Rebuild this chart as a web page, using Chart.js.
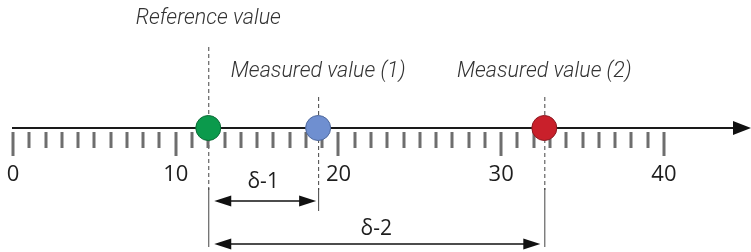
<!DOCTYPE html>
<html>
<head>
<meta charset="utf-8">
<script src="https://cdn.jsdelivr.net/npm/chart.js@4.4.1/dist/chart.umd.min.js"></script>
<style>
  html, body { margin: 0; padding: 0; background: #fff; }
  #wrap { width: 751px; height: 252px; }
</style>
</head>
<body>
<div id="wrap"><canvas id="lineChart"></canvas></div>
<script>
// values
const categories = ['Reference value', 'Measured value (1)', 'Measured value (2)'];
const values = [12, 18.75, 32.65];
const dotColors = ['#0b9a4c', '#6f8fd0', '#c9202b'];
const dotBorders = ['#0a6a35', '#4d679c', '#8c1820'];
const tickLabels = [0, 10, 20, 30, 40];
const deltaLabels = ['δ-1', 'δ-2'];

const axisMin = 0;
const axisMax = 45.35;

const numberLine = {
  id: 'numberLine',
  beforeDatasetsDraw(chart) {
    const ctx = chart.ctx;
    const x = chart.scales.x;
    const y = chart.scales.y;
    const y0 = y.getPixelForValue(0);
    const xs = values.map(v => x.getPixelForValue(v));

    ctx.save();
    // dashed guide lines
    ctx.strokeStyle = '#444';
    ctx.lineWidth = 1;
    ctx.setLineDash([4, 3]);
    const tops = [47, 97, 97];
    xs.forEach((px, i) => {
      ctx.beginPath();
      ctx.moveTo(px + 0.5, tops[i]);
      ctx.lineTo(px + 0.5, 190);
      ctx.stroke();
    });
    ctx.setLineDash([]);
    // solid extension lines for the deltas
    const ends = [247, 211, 247];
    xs.forEach((px, i) => {
      ctx.beginPath();
      ctx.moveTo(px + 0.5, 188);
      ctx.lineTo(px + 0.5, ends[i]);
      ctx.stroke();
    });

    // ticks
    ctx.fillStyle = '#6e6e6e';
    for (let v = 0; v <= 40; v++) {
      const px = x.getPixelForValue(v);
      const major = v % 10 === 0;
      ctx.fillRect(Math.round(px) - 1.5, y0 + 4, 3, major ? 24 : 16);
    }

    // axis line + arrow
    const left = x.getPixelForValue(axisMin) - 1;
    const right = chart.width;
    ctx.strokeStyle = '#1a1a1a';
    ctx.lineWidth = 2;
    ctx.beginPath();
    ctx.moveTo(left, y0);
    ctx.lineTo(right - 16, y0);
    ctx.stroke();
    ctx.fillStyle = '#111';
    ctx.beginPath();
    ctx.moveTo(right, y0);
    ctx.lineTo(right - 18, y0 - 7);
    ctx.lineTo(right - 18, y0 + 7);
    ctx.closePath();
    ctx.fill();

    // tick labels
    ctx.fillStyle = '#1e1e1e';
    ctx.font = '22px "Open Sans"';
    ctx.textAlign = 'center';
    ctx.textBaseline = 'middle';
    tickLabels.forEach(t => {
      ctx.fillText(String(t), x.getPixelForValue(t), y0 + 47);
    });

    // delta arrows
    const drawArrow = (x1, x2, yy) => {
      ctx.strokeStyle = '#111';
      ctx.lineWidth = 1.5;
      ctx.beginPath();
      ctx.moveTo(x1 + 10, yy);
      ctx.lineTo(x2 - 10, yy);
      ctx.stroke();
      ctx.fillStyle = '#111';
      ctx.beginPath();
      ctx.moveTo(x1, yy);
      ctx.lineTo(x1 + 17, yy - 5.5);
      ctx.lineTo(x1 + 17, yy + 5.5);
      ctx.closePath();
      ctx.fill();
      ctx.beginPath();
      ctx.moveTo(x2, yy);
      ctx.lineTo(x2 - 17, yy - 5.5);
      ctx.lineTo(x2 - 17, yy + 5.5);
      ctx.closePath();
      ctx.fill();
    };
    drawArrow(xs[0] + 6, xs[1] - 2, 201);
    drawArrow(xs[0] + 6, xs[2] - 4, 244);

    ctx.fillStyle = '#1e1e1e';
    ctx.font = '21px "Open Sans"';
    ctx.fillText(deltaLabels[0], (xs[0] + xs[1]) / 2, 182);
    ctx.fillText(deltaLabels[1], (xs[0] + xs[2]) / 2, 229);

    // point captions
    ctx.fillStyle = '#333';
    ctx.font = 'italic 300 21.5px Roboto';
    ctx.fillText(categories[0], xs[0], 19);
    ctx.fillText(categories[1], xs[1], 72);
    ctx.fillText(categories[2], xs[2], 72);
    ctx.restore();
  }
};

new Chart(document.getElementById('lineChart'), {
  type: 'scatter',
  data: {
    datasets: [{
      label: 'values',
      data: values.map(v => ({ x: v, y: 0 })),
      backgroundColor: dotColors,
      borderColor: dotBorders,
      borderWidth: 1,
      pointRadius: 12.5,
      pointHoverRadius: 12.5
    }]
  },
  options: {
    responsive: true,
    maintainAspectRatio: false,
    animation: false,
    events: [],
    layout: { autoPadding: false, padding: { left: 13, right: 0, top: 4, bottom: 0 } },
    plugins: { legend: { display: false }, tooltip: { enabled: false } },
    scales: {
      x: { type: 'linear', display: false, min: axisMin, max: axisMax },
      y: { display: false, min: -1, max: 1 }
    }
  },
  plugins: [numberLine]
});
</script>
</body>
</html>
